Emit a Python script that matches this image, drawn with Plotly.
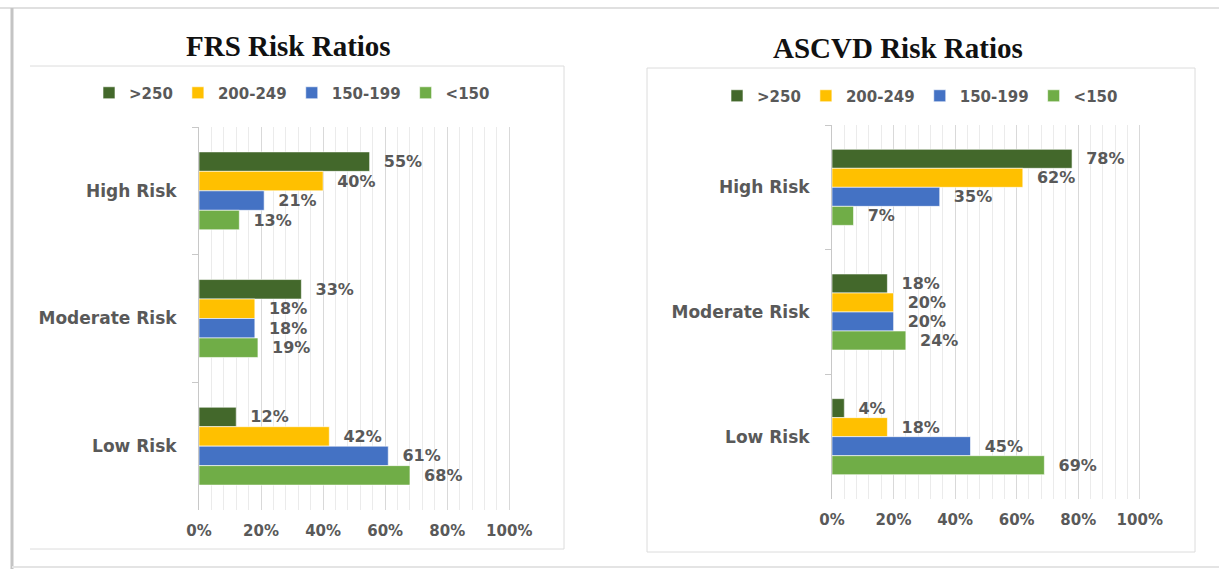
import plotly.graph_objects as go

W, H = 1219, 569

# ---------------- data ----------------
categories = ["High Risk", "Moderate Risk", "Low Risk"]
series_names = [">250", "200-249", "150-199", "<150"]
series_colors = ["#43682B", "#FFC000", "#4472C4", "#70AD47"]

frs_gt250 = [55, 33, 12]
frs_200_249 = [40, 18, 42]
frs_150_199 = [21, 18, 61]
frs_lt150 = [13, 19, 68]

ascvd_gt250 = [78, 18, 4]
ascvd_200_249 = [62, 20, 18]
ascvd_150_199 = [35, 20, 45]
ascvd_lt150 = [7, 24, 69]

x_tickvals = [0, 20, 40, 60, 80, 100]
x_ticktext = ["0%", "20%", "40%", "60%", "80%", "100%"]

frs_series = [frs_gt250, frs_200_249, frs_150_199, frs_lt150]
ascvd_series = [ascvd_gt250, ascvd_200_249, ascvd_150_199, ascvd_lt150]

# ---------------- helpers ----------------
def px(x):
    return x / W


def py(y):
    return 1 - y / H


LABEL = "#595959"
FONT = "DejaVu Sans"
PAD = "\u00a0\u00a0"

fig = go.Figure()


def add_series(series, xa, ya, lg):
    for vals, name, color in zip(series, series_names, series_colors):
        fig.add_trace(go.Bar(
            x=vals, y=categories, orientation="h", name=name,
            marker=dict(color=color, line=dict(color="white", width=0.6)),
            text=[f"{PAD}{v}%" for v in vals], texttemplate="%{text}",
            textposition="outside",
            outsidetextfont=dict(family=FONT, size=16, color=LABEL, weight="bold"),
            constraintext="none", cliponaxis=False,
            xaxis=xa, yaxis=ya, legend=lg, hoverinfo="x+y+name",
        ))


add_series(frs_series, "x", "y", "legend")
add_series(ascvd_series, "x2", "y2", "legend2")

xaxis_common = dict(
    range=[0, 100.4], tickvals=x_tickvals, ticktext=x_ticktext,
    showgrid=True, gridcolor="#d9d9d9", gridwidth=1,
    minor=dict(dtick=4, showgrid=True, gridcolor="#ebebeb", gridwidth=1),
    zeroline=False, showline=False, ticks="",
    tickfont=dict(family=FONT, size=15, color=LABEL, weight="bold"),
    ticklabelstandoff=10, fixedrange=True, automargin=False,
)
yaxis_common = dict(
    categoryorder="array", categoryarray=categories, autorange="reversed",
    showgrid=False, zeroline=False, showline=True, linecolor="#c8c8c8",
    linewidth=1, ticks="outside", tickson="boundaries", ticklen=6,
    tickcolor="#c8c8c8",
    tickfont=dict(family=FONT, size=17, color=LABEL, weight="bold"),
    ticklabelstandoff=18, fixedrange=True, automargin=False,
)

legend_common = dict(
    orientation="h", xanchor="left", yanchor="middle",
    bgcolor="rgba(0,0,0,0)",
    font=dict(family=FONT, size=15, color=LABEL, weight="bold"),
    itemclick=False, itemdoubleclick=False,
)

fig.update_layout(
    width=W, height=H, margin=dict(l=0, r=0, t=0, b=0, pad=0),
    autosize=False,
    paper_bgcolor="white", plot_bgcolor="white",
    barmode="group", bargap=0.39, bargroupgap=0,
    xaxis=dict(domain=[px(199), px(510.5)], anchor="y", **xaxis_common),
    yaxis=dict(domain=[py(510), py(127)], anchor="x", **yaxis_common),
    xaxis2=dict(domain=[px(832), px(1141)], anchor="y2", **xaxis_common),
    yaxis2=dict(domain=[py(499), py(125)], anchor="x2", **yaxis_common),
    legend=dict(x=px(89), y=py(93), **legend_common),
    legend2=dict(x=px(717), y=py(96), **legend_common),
    showlegend=True,
)

# titles
fig.add_annotation(text="<b>FRS Risk Ratios</b>", x=px(288), y=py(46),
                   xref="paper", yref="paper", showarrow=False,
                   xanchor="center", yanchor="middle",
                   font=dict(family="Liberation Serif", size=29, color="#111111"))
fig.add_annotation(text="<b>ASCVD Risk Ratios</b>", x=px(898), y=py(48),
                   xref="paper", yref="paper", showarrow=False,
                   xanchor="center", yanchor="middle",
                   font=dict(family="Liberation Serif", size=29, color="#111111"))

# frames
frame = "#dcdcdc"
shapes = [
    # outer frame
    dict(type="line", x0=px(0), x1=px(W), y0=py(8), y1=py(8), line=dict(color="#e0e0e0", width=2)),
    dict(type="line", x0=px(12), x1=px(12), y0=py(8), y1=py(H), line=dict(color="#c4c4c4", width=3)),
    dict(type="line", x0=px(12), x1=px(W), y0=py(567), y1=py(567), line=dict(color="#e4e4e4", width=2)),
    # left chart area box
    dict(type="line", x0=px(30), x1=px(564), y0=py(66), y1=py(66), line=dict(color=frame, width=1)),
    dict(type="line", x0=px(564), x1=px(564), y0=py(66), y1=py(549), line=dict(color=frame, width=1)),
    dict(type="line", x0=px(30), x1=px(564), y0=py(549), y1=py(549), line=dict(color=frame, width=1)),
    # right chart area box
    dict(type="rect", x0=px(647), x1=px(1195), y0=py(552), y1=py(68), line=dict(color=frame, width=1)),
]
for s in shapes:
    s.update(xref="paper", yref="paper", layer="below")
fig.update_layout(shapes=shapes)

fig.write_html("out.html")
